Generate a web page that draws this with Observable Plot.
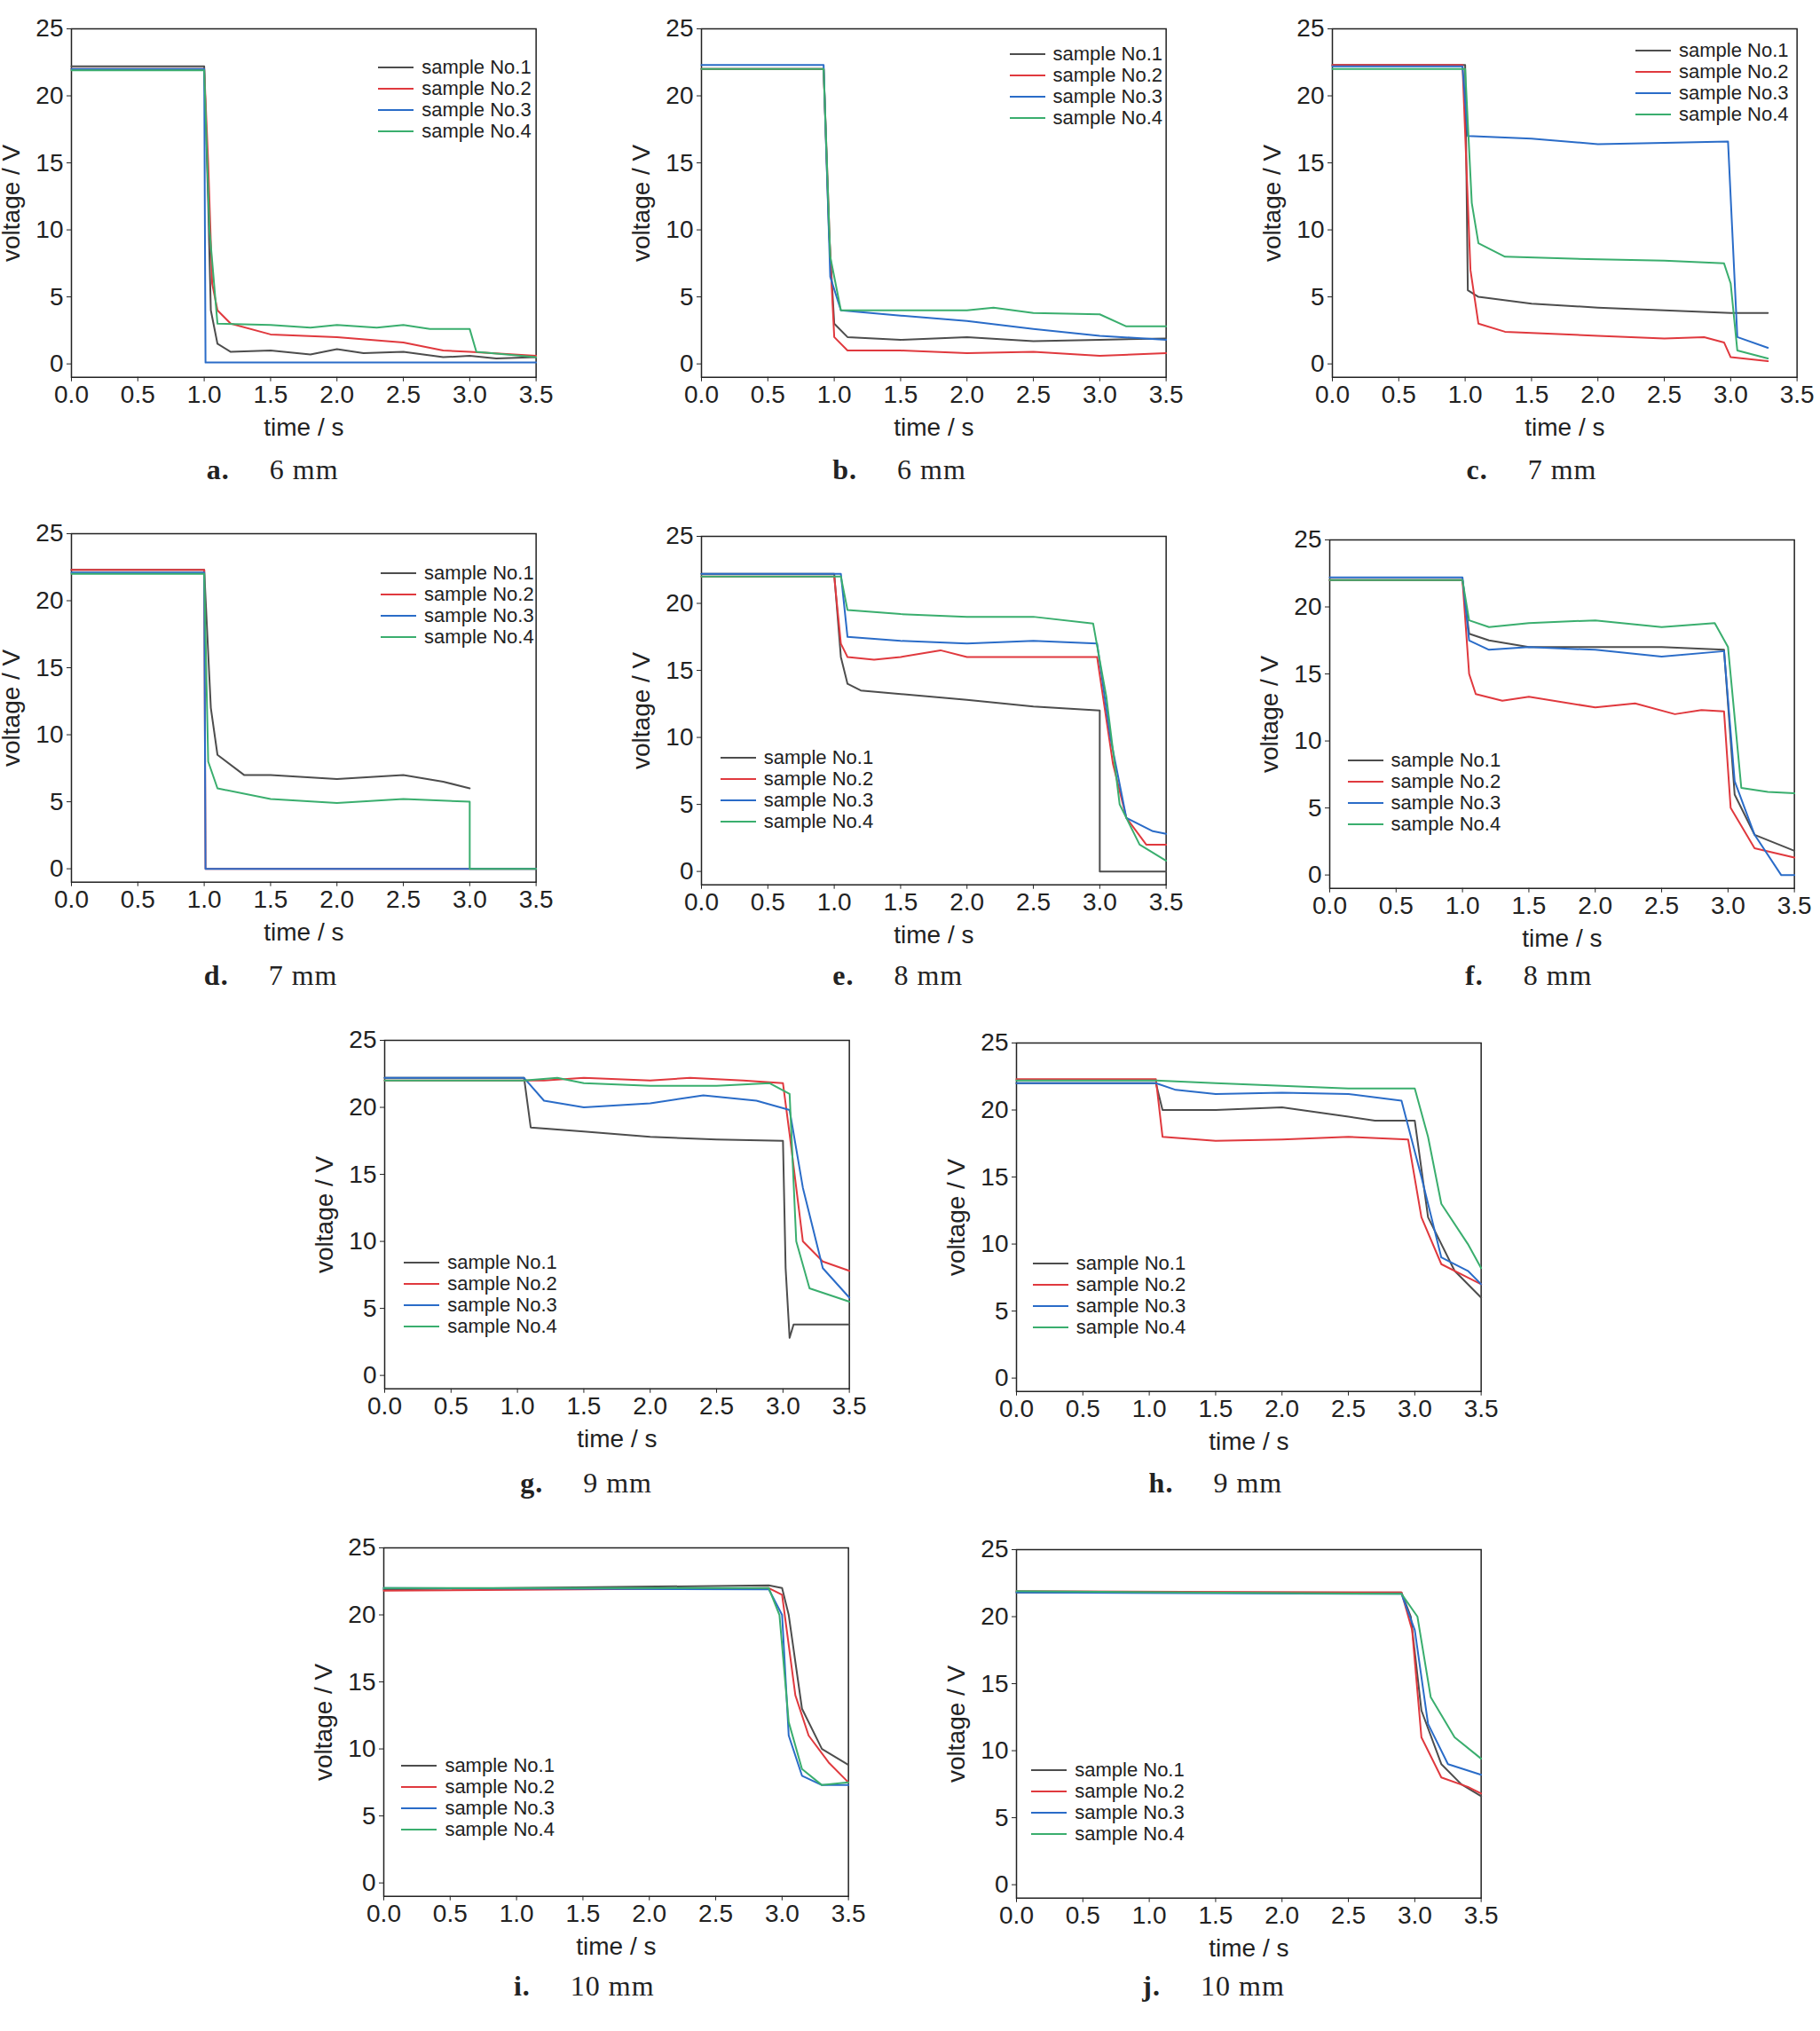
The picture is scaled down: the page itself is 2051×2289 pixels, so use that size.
<!DOCTYPE html>
<html><head><meta charset="utf-8">
<script src="https://cdn.jsdelivr.net/npm/d3@7/dist/d3.min.js"></script>
<script src="https://cdn.jsdelivr.net/npm/@observablehq/plot@0.6/dist/plot.umd.min.js"></script>
<style>
body{margin:0;background:#fff;}
#root{position:relative;width:2051px;height:2289px;font-family:"Liberation Sans Narrow","Liberation Sans",Arial,sans-serif;}
.pl{position:absolute;}
.leg{position:absolute;font-size:22px;line-height:24px;color:#222;}
.leg div{display:flex;align-items:center;white-space:nowrap;}
.leg span.sw{display:inline-block;width:40px;height:2px;margin-right:9px;}
.cap{position:absolute;font-family:"Liberation Serif","DejaVu Serif",serif;font-size:32px;color:#222;white-space:nowrap;letter-spacing:1px;}
</style></head><body><div id="root"></div>
<script>
const samples = ["sample No.1","sample No.2","sample No.3","sample No.4"];
const colors = ["#4d4d4d","#e0393e","#2a6cc8","#3aae6e"];
const xTicks = [0,0.5,1,1.5,2,2.5,3,3.5];
const yTicks = [0,5,10,15,20,25];
const panelLetters = ["a.","b.","c.","d.","e.","f.","g.","h.","i.","j."];
const panelWidths = ["6 mm","6 mm","7 mm","7 mm","8 mm","8 mm","9 mm","9 mm","10 mm","10 mm"];

const a1=[[0,22.2],[1.0,22.2],[1.03,12],[1.05,4],[1.1,1.5],[1.2,0.9],[1.5,1.0],[1.8,0.7],[2.0,1.1],[2.2,0.8],[2.5,0.9],[2.8,0.5],[3.0,0.6],[3.2,0.4],[3.5,0.5]];
const a2=[[0,22],[1.0,22],[1.03,15],[1.06,6],[1.1,4],[1.2,3],[1.5,2.2],[2.0,2.0],[2.5,1.6],[2.8,1.0],[3.0,0.9],[3.5,0.6]];
const a3=[[0,22],[1.0,22],[1.01,0.1],[3.5,0.1]];
const a4=[[0,21.9],[1.0,21.9],[1.04,10],[1.1,3],[1.5,2.9],[1.8,2.7],[2.0,2.9],[2.3,2.7],[2.5,2.9],[2.7,2.6],[3.0,2.6],[3.05,0.9],[3.5,0.5]];
const b1=[[0,22],[0.92,22],[0.96,10],[1.0,3],[1.1,2],[1.5,1.8],[2.0,2],[2.5,1.7],[3.0,1.8],[3.5,1.9]];
const b2=[[0,22],[0.92,22],[0.97,8],[1.0,2],[1.1,1],[1.5,1],[2.0,0.8],[2.5,0.9],[3.0,0.6],[3.5,0.8]];
const b3=[[0,22.3],[0.92,22.3],[0.97,6.5],[1.05,4],[1.5,3.6],[2.0,3.2],[2.5,2.6],[3.0,2.1],[3.5,1.8]];
const b4=[[0,22],[0.92,22],[0.97,8],[1.05,4],[1.5,4],[2.0,4],[2.2,4.2],[2.5,3.8],[3.0,3.7],[3.2,2.8],[3.5,2.8]];
const c1=[[0,22.3],[1.0,22.3],[1.02,5.5],[1.1,5],[1.5,4.5],[2.0,4.2],[2.5,4],[3.0,3.8],[3.28,3.8]];
const c2=[[0,22.3],[0.98,22.3],[1.04,7],[1.1,3],[1.3,2.4],[2.0,2.1],[2.5,1.9],[2.8,2.0],[2.95,1.6],[3.0,0.5],[3.28,0.2]];
const c3=[[0,22.2],[0.98,22.2],[1.02,17],[1.5,16.8],[2.0,16.4],[2.5,16.5],[2.98,16.6],[3.05,2],[3.28,1.2]];
const c4=[[0,22],[1.0,22],[1.05,12],[1.1,9],[1.3,8],[2.0,7.8],[2.5,7.7],[2.95,7.5],[3.0,6],[3.05,1],[3.28,0.4]];
const d1=[[0,22.3],[1.0,22.3],[1.05,12],[1.1,8.5],[1.3,7],[1.5,7],[2.0,6.7],[2.5,7],[2.8,6.5],[3.0,6]];
const d2=[[0,22.3],[1.0,22.3],[1.01,0],[3.5,0]];
const d3=[[0,22.1],[1.0,22.1],[1.01,0],[3.5,0]];
const d4=[[0,22],[1.0,22],[1.03,8],[1.1,6],[1.5,5.2],[2.0,4.9],[2.5,5.2],[3.0,5],[3.0,0],[3.5,0]];
const e1=[[0,22.2],[1.0,22.2],[1.05,16],[1.1,14],[1.2,13.5],[2.0,12.8],[2.5,12.3],[3.0,12],[3.0,0],[3.5,0]];
const e2=[[0,22],[1.0,22],[1.05,17],[1.1,16],[1.3,15.8],[1.5,16],[1.8,16.5],[2.0,16],[2.5,16],[2.98,16],[3.1,8],[3.2,4],[3.35,2],[3.5,2]];
const e3=[[0,22.2],[1.05,22.2],[1.1,17.5],[1.5,17.2],[2.0,17],[2.5,17.2],[2.98,17],[3.08,10],[3.2,4],[3.4,3],[3.5,2.8]];
const e4=[[0,22],[1.05,22],[1.1,19.5],[1.5,19.2],[2.0,19],[2.5,19],[2.95,18.5],[3.05,13],[3.15,5],[3.3,2],[3.5,0.8]];
const f1=[[0,22],[1.0,22],[1.05,18],[1.2,17.5],[1.5,17],[2.0,17],[2.5,17],[2.97,16.8],[3.05,6],[3.2,3],[3.5,1.8]];
const f2=[[0,22],[1.0,22],[1.05,15],[1.1,13.5],[1.3,13],[1.5,13.3],[2.0,12.5],[2.3,12.8],[2.6,12],[2.8,12.3],[2.97,12.2],[3.02,5],[3.2,2],[3.5,1.3]];
const f3=[[0,22.2],[1.0,22.2],[1.05,17.5],[1.2,16.8],[1.5,17],[2.0,16.8],[2.5,16.3],[2.97,16.7],[3.05,7],[3.2,3],[3.4,0],[3.5,0]];
const f4=[[0,22],[1.0,22],[1.05,19],[1.2,18.5],[1.5,18.8],[2.0,19],[2.5,18.5],[2.9,18.8],[3.0,17],[3.1,6.5],[3.3,6.2],[3.5,6.1]];
const g1=[[0,22.2],[1.05,22.2],[1.1,18.5],[1.5,18.2],[2.0,17.8],[2.5,17.6],[3.0,17.5],[3.02,8],[3.05,2.8],[3.08,3.8],[3.5,3.8]];
const g2=[[0,22],[1.0,22],[1.2,22],[1.5,22.2],[2.0,22],[2.3,22.2],[2.7,22],[3.0,21.8],[3.05,18],[3.15,10],[3.3,8.5],[3.5,7.8]];
const g3=[[0,22.2],[1.05,22.2],[1.2,20.5],[1.5,20],[2.0,20.3],[2.4,20.9],[2.8,20.5],[3.05,19.8],[3.15,14],[3.3,8],[3.5,5.8]];
const g4=[[0,22],[1.05,22],[1.3,22.2],[1.5,21.8],[2.0,21.6],[2.5,21.6],[2.9,21.8],[3.05,21],[3.1,10],[3.2,6.5],[3.5,5.5]];
const h1=[[0,22],[1.05,22],[1.1,20],[1.5,20],[2.0,20.2],[2.5,19.5],[2.7,19.2],[3.0,19.2],[3.1,12],[3.3,8],[3.5,6]];
const h2=[[0,22.3],[1.05,22.3],[1.1,18],[1.5,17.7],[2.0,17.8],[2.5,18],[2.95,17.8],[3.05,12],[3.2,8.5],[3.4,7.5],[3.5,7]];
const h3=[[0,22],[1.05,22],[1.2,21.5],[1.5,21.2],[2.0,21.3],[2.5,21.2],[2.9,20.7],[3.05,15],[3.2,9],[3.4,8],[3.5,7]];
const h4=[[0,22.2],[1.05,22.2],[1.5,22],[2.0,21.8],[2.5,21.6],[3.0,21.6],[3.1,18],[3.2,13],[3.4,10],[3.5,8.2]];
const i1=[[0,21.9],[2.9,22.2],[3.0,22],[3.05,20],[3.15,13],[3.3,10],[3.5,8.8]];
const i2=[[0,21.8],[2.9,22],[3.0,21.5],[3.1,14],[3.2,11],[3.35,9],[3.5,7.5]];
const i3=[[0,22],[2.9,21.9],[3.0,20],[3.05,11],[3.15,8],[3.3,7.3],[3.5,7.3]];
const i4=[[0,22],[2.9,22],[2.98,20],[3.05,12],[3.15,8.5],[3.3,7.3],[3.5,7.5]];
const j1=[[0,21.8],[2.9,21.8],[2.97,20],[3.05,13],[3.2,9],[3.35,7.5],[3.5,6.6]];
const j2=[[0,21.9],[2.9,21.8],[2.98,19],[3.05,11],[3.2,8],[3.4,7.3],[3.5,6.8]];
const j3=[[0,21.8],[2.9,21.7],[3.0,19],[3.1,12],[3.25,9],[3.5,8.2]];
const j4=[[0,21.9],[2.9,21.7],[3.02,20],[3.12,14],[3.3,11],[3.5,9.4]];
const panelData=[[a1,a2,a3,a4],[b1,b2,b3,b4],[c1,c2,c3,c4],[d1,d2,d3,d4],[e1,e2,e3,e4],[f1,f2,f3,f4],[g1,g2,g3,g4],[h1,h2,h3,h4],[i1,i2,i3,i4],[j1,j2,j3,j4]];

const S=2051/1410;
const frames=[[55,22],[543,22],[1032,22],[55,413],[543,415],[1030,418],[298,806],[787,808],[297,1199],[787,1200]];
const legs=[[293,44],[782,34],[1267,31],[295,436],[558,579],[1044,581],[313,970],[800,971],[311,1360],[799,1363]];
const caps=[[160,365],[645,365],[1136,365],[158,757],[645,757],[1135,757],[403,1150],[890,1150],[398,1540],[885,1540]];
const FW=360*S, FH=270*S, ML=85, MR=30, MT=25, MB=85;
const root=document.getElementById("root");
panelData.forEach((series,k)=>{
  const rows=[];
  series.forEach((arr,si)=>arr.forEach(([t,v])=>rows.push({t,v,s:samples[si]})));
  const p=Plot.plot({
    width:FW+ML+MR,height:FH+MT+MB,marginLeft:ML,marginRight:MR,marginTop:MT,marginBottom:MB,
    style:{fontSize:"28px",fontFamily:'"Liberation Sans Narrow","Liberation Sans",Arial,sans-serif',color:"#222",background:"transparent",overflow:"visible"},
    x:{domain:[0,3.5],ticks:xTicks,tickFormat:d=>d.toFixed(1),label:"time / s",labelAnchor:"center",labelArrow:"none",labelOffset:66,tickSize:5},
    y:{domain:[-1,25],ticks:yTicks,label:"voltage / V",labelAnchor:"center",labelArrow:"none",labelOffset:78,tickSize:5},
    color:{domain:samples,range:colors},
    marks:[
      Plot.frame({stroke:"#222",strokeWidth:1.5}),
      Plot.line(rows,{x:"t",y:"v",z:"s",stroke:"s",strokeWidth:2})
    ]
  });
  p.classList.add("pl");
  p.style.left=(frames[k][0]*S-ML)+"px";
  p.style.top=(frames[k][1]*S-MT)+"px";
  root.appendChild(p);
  const lg=document.createElement("div");lg.className="leg";
  lg.style.left=(legs[k][0]*S)+"px";lg.style.top=(legs[k][1]*S)+"px";
  samples.forEach((s,i)=>{const r=document.createElement("div");r.innerHTML=`<span class="sw" style="background:${colors[i]}"></span>${s}`;lg.appendChild(r);});
  root.appendChild(lg);
  const c=document.createElement("div");c.className="cap";
  c.style.left=(caps[k][0]*S)+"px";c.style.top=(caps[k][1]*S-20)+"px";
  c.innerHTML=`<b>${panelLetters[k]}</b>&nbsp;&nbsp;&nbsp;&nbsp;&nbsp;${panelWidths[k]}`;
  root.appendChild(c);
});
</script></body></html>
